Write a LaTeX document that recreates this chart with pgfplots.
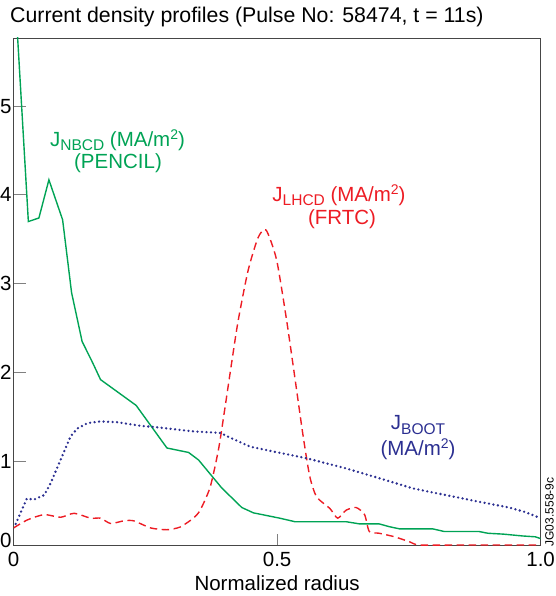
\documentclass[border=0pt]{standalone}
\usepackage{pgfplots}
\pgfplotsset{compat=1.18}
\usepackage{fontspec}
\setmainfont{Liberation Sans}
\definecolor{cgreen}{RGB}{0,163,85}
\definecolor{cred}{RGB}{237,28,36}
\definecolor{cblue}{RGB}{43,47,145}
\definecolor{caxis}{RGB}{70,70,70}
\newcommand\bigf{\fontsize{20.5bp}{24bp}\selectfont}
\newcommand\sub[1]{\raisebox{-4.2bp}[0pt][0pt]{\fontsize{15.5bp}{16bp}\selectfont #1}}
\newcommand\sqr{\raisebox{7bp}[0pt][0pt]{\fontsize{14bp}{15bp}\selectfont 2}}
\begin{document}
\begin{tikzpicture}
\useasboundingbox (0,0) rectangle (556bp,596bp);
\begin{axis}[
  at={(13.6bp,50.3bp)}, anchor=south west,
  scale only axis, width=527bp, height=507.7bp,
  xmin=0, xmax=1, ymin=0.05, ymax=5.767,
  xtick={0,0.5,1}, xticklabels={0,0.5,1.0},
  ytick={1,2,3,4,5},
  extra y ticks={0.114}, extra y tick labels={0},
  extra y tick style={major tick length=0pt},
  tick pos=left, tick align=inside,
  major tick length=12bp,
  tick style={gray, line width=0.9pt},
  axis line style={caxis, line width=0.9pt},
  /pgf/number format/assume math mode=true,
  ticklabel style={font=\bigf, inner sep=0pt},
  xticklabel style={anchor=base, yshift=-20.8bp},
  yticklabel style={anchor=east, xshift=-1.8bp},
  xlabel={Normalized radius},
  xlabel style={font=\bigf, at={(rel axis cs:0.5,0)}, anchor=base, yshift=-44.3bp, inner sep=0pt},
  clip=true,
]
% J_NBCD (PENCIL)
\addplot[cgreen, line width=1.4pt] coordinates {
(0,6.55) (0.028,3.70) (0.048,3.74) (0.067,4.17) (0.093,3.72) (0.110,2.90)
(0.130,2.35) (0.150,2.11) (0.165,1.92) (0.2325,1.63) (0.291,1.15) (0.332,1.10)
(0.351,1.015) (0.395,0.70) (0.433,0.48) (0.455,0.42) (0.505,0.36) (0.534,0.32)
(0.631,0.32) (0.657,0.295) (0.694,0.295) (0.713,0.264) (0.732,0.24) (0.795,0.24)
(0.817,0.21) (0.883,0.21) (0.90,0.19) (0.93,0.18) (0.965,0.16) (0.99,0.15) (1.0,0.13)
};
% J_LHCD (FRTC)
\addplot[cred, line width=1.4pt, dash pattern=on 7.5bp off 4.5bp, smooth, tension=0.4] coordinates {
(0,0.25) (0.026,0.34) (0.058,0.40) (0.089,0.37) (0.115,0.415) (0.146,0.36)
(0.165,0.36) (0.184,0.30) (0.209,0.33) (0.228,0.33) (0.26,0.25) (0.291,0.23)
(0.316,0.26) (0.341,0.36) (0.354,0.45) (0.373,0.71) (0.389,1.14) (0.401,1.60)
(0.413,2.08) (0.426,2.58) (0.445,3.15) (0.464,3.52) (0.479,3.605) (0.499,3.27)
(0.518,2.59) (0.534,1.93) (0.549,1.30) (0.562,0.83) (0.575,0.60) (0.60,0.47)
(0.615,0.36) (0.631,0.45) (0.65,0.48) (0.666,0.40) (0.675,0.21) (0.694,0.19)
(0.723,0.15) (0.751,0.095) (0.77,0.058) (0.85,0.058) (1.0,0.058)
};
% J_BOOT
\addplot[cblue, line width=2.6pt, line cap=round, dash pattern=on 0pt off 4.5bp] coordinates {
(0.004,0.295) (0.025,0.58) (0.039,0.57) (0.058,0.62) (0.07,0.75) (0.089,1.015)
(0.108,1.28) (0.121,1.37) (0.14,1.43) (0.165,1.45) (0.197,1.44) (0.241,1.40)
(0.278,1.38) (0.335,1.34) (0.392,1.32) (0.417,1.25) (0.449,1.165) (0.493,1.11)
(0.556,1.035) (0.631,0.92) (0.694,0.81) (0.757,0.696) (0.82,0.62) (0.883,0.545)
(0.94,0.48) (0.97,0.43) (1.0,0.36)
};
\end{axis}
\node[anchor=base west, font=\fontsize{21.3bp}{25bp}\selectfont, inner sep=0pt] at (10bp,573bp) {Current density profiles (Pulse No: 58474, t = 11s)};
\node[anchor=base, font=\bigf, text=cgreen, inner sep=0pt] at (117.5bp,449.3bp) {J\sub{NBCD} (MA/m\sqr)};
\node[anchor=base, font=\bigf, text=cgreen, inner sep=0pt] at (118bp,427.7bp) {(PENCIL)};
\node[anchor=base, font=\bigf, text=cred, inner sep=0pt] at (339bp,394.3bp) {J\sub{LHCD} (MA/m\sqr)};
\node[anchor=base, font=\bigf, text=cred, inner sep=0pt] at (342bp,371bp) {(FRTC)};
\node[anchor=base, font=\bigf, text=cblue, inner sep=0pt] at (418bp,166bp) {J\sub{BOOT}};
\node[anchor=base, font=\bigf, text=cblue, inner sep=0pt] at (418bp,140.5bp) {(MA/m\sqr)};
\node[rotate=90, font=\fontsize{12bp}{13bp}\selectfont, inner sep=0pt] at (549.5bp,84bp) {JG03.558-9c};
\end{tikzpicture}
\end{document}
